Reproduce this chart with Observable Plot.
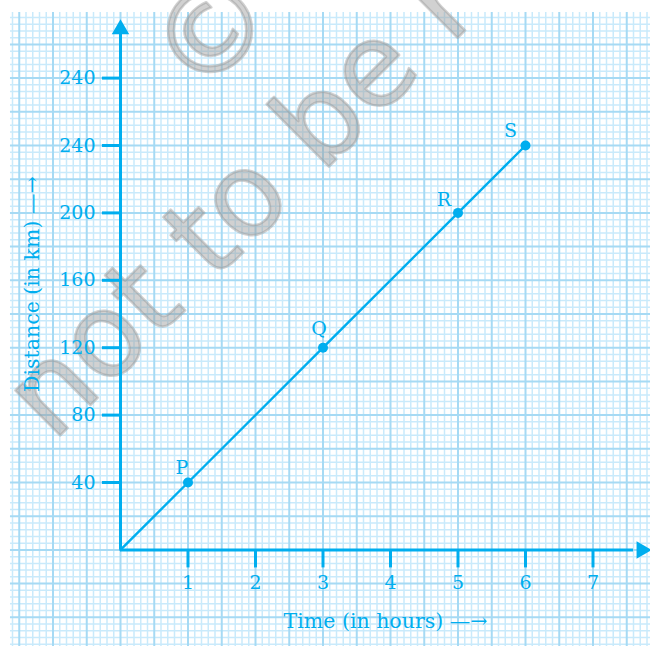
<!DOCTYPE html>
<html>
<head>
<meta charset="utf-8">
<script src="https://cdn.jsdelivr.net/npm/d3@7"></script>
<script src="https://cdn.jsdelivr.net/npm/@observablehq/plot@0.6"></script>
<style>
  html, body { margin: 0; padding: 0; background: #fff; }
  #chart svg { display: block; }
</style>
</head>
<body>
<div id="chart"></div>
<script>
// ---- Data ----
const times = [0, 1, 3, 5, 6];               // hours
const distances = [0, 40, 120, 200, 240];    // km
const pointNames = ["", "P", "Q", "R", "S"];
const xTicks = [1, 2, 3, 4, 5, 6, 7];
const yTicks = [40, 80, 120, 160, 200, 240, 280];
const yTickLabels = ["40", "80", "120", "160", "200", "240", "240"];
const xLabel = "Time (in hours) \u2014\u2192";
const yLabel = "Distance (in km) \u2014\u2192";
const watermark = ["\u00A9 NCERT", "not to be republished"];

// ---- Styling ----
const blue = "#00aeef";
const minorColor = "#c9eafb";
const majorColor = "#a6daf4";

const points = times.map((t, i) => ({t, d: distances[i], name: pointNames[i]}));
const labelled = points.filter(p => p.name);

// graph-paper lines (0.1 h and 4 km per small square)
const gx = d3.range(-16, 79).map(k => ({v: k / 10, major: k % 5 === 0}));
const gy = d3.range(-14, 80).map(k => ({v: k * 4, major: k % 5 === 0}));
const gridX = [-1.63, 7.86];
const gridY = [-57.3, 318.9];

const offsets = {P: [-6, -15], Q: [-4, -19], R: [-14, -13], S: [-15, -15]};

const wmStyle = {frameAnchor: "top-left", rotate: -45, textAnchor: "start", lineAnchor: "middle",
  fontSize: 116, fontFamily: "DejaVu Sans", fill: "#9a9a9a", fillOpacity: 0.46,
  stroke: "#9a9a9a", strokeOpacity: 0.46, strokeWidth: 2.5};

const chart = Plot.plot({
  width: 650,
  height: 652,
  marginLeft: 120,
  marginRight: 0,
  marginTop: 0,
  marginBottom: 102.6,
  style: {fontFamily: "DejaVu Serif", background: "#fff"},
  x: {domain: [0, 530 / 67.5]},
  y: {domain: [0, 549.4 / 1.685]},
  marks: [
    // graph paper
    Plot.ruleX(gx.filter(g => !g.major), {x: "v", y1: gridY[0], y2: gridY[1], stroke: minorColor, strokeWidth: 1.5}),
    Plot.ruleY(gy.filter(g => !g.major), {y: "v", x1: gridX[0], x2: gridX[1], stroke: minorColor, strokeWidth: 1.5}),
    Plot.ruleX(gx.filter(g => g.major), {x: "v", y1: gridY[0], y2: gridY[1], stroke: majorColor, strokeWidth: 2}),
    Plot.ruleY(gy.filter(g => g.major), {y: "v", x1: gridX[0], x2: gridX[1], stroke: majorColor, strokeWidth: 2}),
    // watermark
    Plot.text([watermark[1]], {...wmStyle, dx: -94, dy: 416}),
    Plot.text([watermark[0]], {...wmStyle, dx: 52, dy: 74}),
    // data line
    Plot.line(points, {x: "t", y: "d", stroke: blue, strokeWidth: 2.4}),
    // axis lines
    Plot.ruleY([0], {x1: 0, x2: 7.6, stroke: blue, strokeWidth: 3}),
    Plot.ruleX([0], {y1: 0, y2: 306, stroke: blue, strokeWidth: 3}),
    Plot.dot([{x: 7.72, y: 0}], {x: "x", y: "y", symbol: "triangle", rotate: 90, r: 6.5, fill: blue, stroke: "none"}),
    Plot.dot([{x: 0, y: 309}], {x: "x", y: "y", symbol: "triangle", rotate: 0, r: 6.5, fill: blue, stroke: "none"}),
    // axes (ticks + labels)
    Plot.axisX({ticks: xTicks, tickSize: 18, tickPadding: 8, tickFormat: d => String(d),
      color: blue, strokeWidth: 3, fontSize: 19, label: null}),
    Plot.axisY({ticks: yTicks, tickSize: 18, tickPadding: 7, tickFormat: d => yTickLabels[yTicks.indexOf(d)],
      color: blue, strokeWidth: 3, fontSize: 19, label: null}),
    Plot.text([xLabel], {frameAnchor: "bottom", textAnchor: "middle", dy: 72, lineAnchor: "middle", fill: blue, fontSize: 20.5}),
    Plot.text([yLabel], {frameAnchor: "left", textAnchor: "middle", dx: -88, dy: 9, rotate: -90, lineAnchor: "middle", fill: blue, fontSize: 20.5}),
    // points and names
    Plot.dot(labelled, {x: "t", y: "d", r: 5, fill: blue, stroke: "none"}),
    ...labelled.map(p => Plot.text([p], {x: "t", y: "d", text: "name", dx: offsets[p.name][0], dy: offsets[p.name][1],
      fill: blue, fontSize: 19, lineAnchor: "middle"}))
  ]
});
document.getElementById("chart").appendChild(chart);
</script>
</body>
</html>
